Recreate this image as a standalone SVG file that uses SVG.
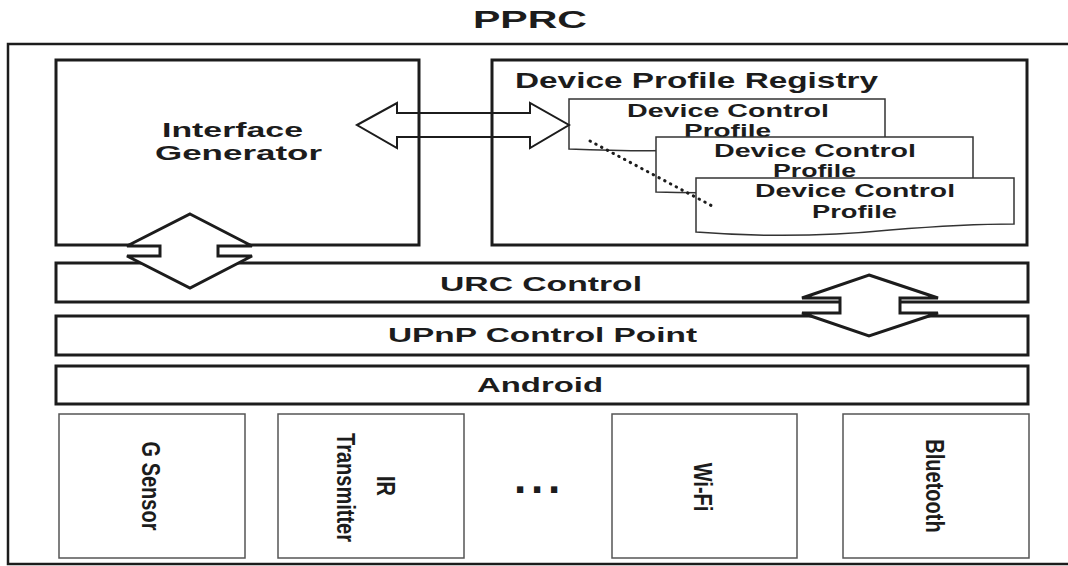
<svg xmlns="http://www.w3.org/2000/svg" width="1068" height="566" viewBox="0 0 1068 566">
<style>
text{font-family:"Liberation Sans",Arial,sans-serif;font-weight:bold;fill:#1c1c1c}
.box{fill:none;stroke:#1c1c1c;stroke-width:3}
.bar{fill:#fff;stroke:#1c1c1c;stroke-width:3}
.hw{fill:#fff;stroke:#555;stroke-width:1.5}
.card{fill:#fff;stroke:#333;stroke-width:1.5}
.t21{font-size:21px}
.t22{font-size:22px}
.tc{font-size:17.5px}
.tv{font-size:20px;text-anchor:middle}
.arrow{fill:#fff;stroke:#1c1c1c;stroke-width:3;stroke-linejoin:miter}
.harrow{fill:none;stroke:#1c1c1c;stroke-width:2}
</style>
<rect width="1068" height="566" fill="#fff"/>
<g id="pprc">
<rect x="8" y="44" width="1090" height="520" fill="none" stroke="#1c1c1c" stroke-width="2.5"/>
<text x="473" y="28" font-size="23" textLength="114" lengthAdjust="spacingAndGlyphs">PPRC</text>
</g>
<g id="interface-generator">
<rect class="box" x="56" y="60" width="363" height="185"/>
<text class="t21" x="162" y="137" textLength="141" lengthAdjust="spacingAndGlyphs">Interface</text>
<text class="t21" x="155" y="160" textLength="167" lengthAdjust="spacingAndGlyphs">Generator</text>
</g>
<g id="device-profile-registry">
<rect class="box" x="492" y="60" width="535" height="185"/>
<text class="t22" x="515" y="88" textLength="363" lengthAdjust="spacingAndGlyphs">Device Profile Registry</text>
</g>
<g id="profile-1">
<path class="card" d="M569,99 H885 V150 H700 Q640,152 569,149 Z"/>
<text class="tc" x="627" y="117" textLength="202" lengthAdjust="spacingAndGlyphs">Device Control</text>
<text class="tc" x="684" y="137" textLength="87" lengthAdjust="spacingAndGlyphs">Profile</text>
</g>
<g id="profile-2">
<path class="card" d="M656,137 H973 V190 H780 Q720,194 656,192 Z"/>
<text class="tc" x="714" y="157" textLength="202" lengthAdjust="spacingAndGlyphs">Device Control</text>
<text class="tc" x="773" y="177" textLength="83" lengthAdjust="spacingAndGlyphs">Profile</text>
</g>
<g id="profile-3">
<path class="card" d="M696,178 H1014 V224 C980,224 940,226 890,230 C830,236 760,237 696,232 Z"/>
<text class="tc" x="755" y="197" textLength="200" lengthAdjust="spacingAndGlyphs">Device Control</text>
<text class="tc" x="812" y="218" textLength="85" lengthAdjust="spacingAndGlyphs">Profile</text>
</g>
<g id="urc-control">
<rect class="bar" x="56" y="263" width="972" height="39"/>
<text class="t21" x="440" y="291" textLength="202" lengthAdjust="spacingAndGlyphs">URC Control</text>
</g>
<g id="upnp-control-point">
<rect class="bar" x="56" y="316" width="972" height="39"/>
<text class="t21" x="388" y="342" textLength="309" lengthAdjust="spacingAndGlyphs">UPnP Control Point</text>
</g>
<g id="android">
<rect class="bar" x="56" y="366" width="972" height="38"/>
<text class="t21" x="477" y="392" textLength="126" lengthAdjust="spacingAndGlyphs">Android</text>
</g>
<g id="g-sensor">
<rect class="hw" x="59" y="414" width="186" height="144"/>
<text class="tv" transform="translate(151,486) rotate(90) scale(1,1.3)" y="7.2">G Sensor</text>
</g>
<g id="ir-transmitter">
<rect class="hw" x="278" y="414" width="186" height="144"/>
<text class="tv" transform="translate(386,486) rotate(90) scale(1,1.3)" y="7.2">IR</text>
<text class="tv" transform="translate(346,487.5) rotate(90) scale(1,1.3)" y="7.2">Transmitter</text>
</g>
<g id="ellipsis">
<text x="514 531 548" y="493" font-size="44">...</text>
</g>
<g id="wi-fi">
<rect class="hw" x="612" y="414" width="185" height="144"/>
<text class="tv" transform="translate(703,487) rotate(90) scale(1,1.3)" y="7.2">Wi-Fi</text>
</g>
<g id="bluetooth">
<rect class="hw" x="843" y="414" width="186" height="144"/>
<text class="tv" transform="translate(935,486) rotate(90) scale(1,1.3)" y="7.2">Bluetooth</text>
</g>
<g id="connectors">
<polygon class="harrow" points="357,125 397,103 397,113 530,113 530,103 569,125 530,148 530,137 397,137 397,148"/>
<polygon class="arrow" points="190,214 252,246 218,246 218,256 252,256 190,288 127,256 160,256 160,246 127,246"/>
<polygon class="arrow" points="869,275 938,298 900,298 900,313 938,313 869,336 802,313 840,313 840,298 802,298"/>
<line x1="590" y1="141" x2="716" y2="208" stroke="#1c1c1c" stroke-width="3" stroke-linecap="round" stroke-dasharray="0.5 6"/>
</g>
</svg>
